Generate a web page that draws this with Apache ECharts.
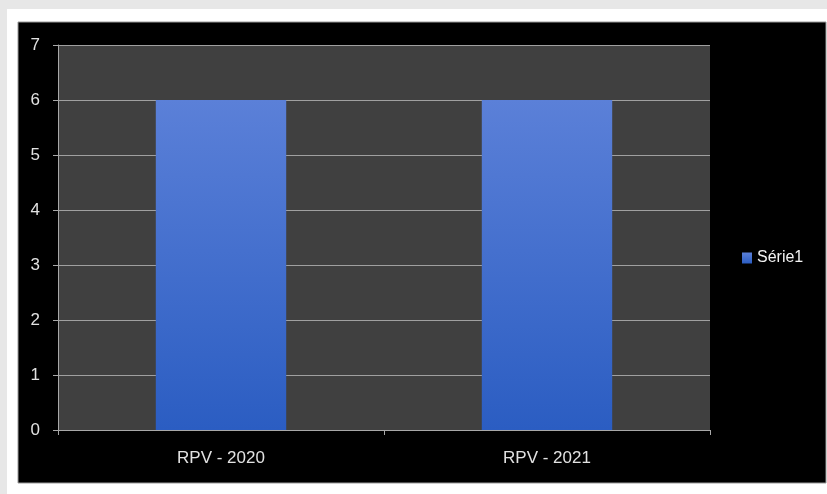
<!DOCTYPE html>
<html>
<head>
<meta charset="utf-8">
<script src="https://cdn.jsdelivr.net/npm/echarts@6/dist/echarts.min.js"></script>
<style>
  html, body { margin: 0; padding: 0; background: #e7e7e7; }
  #chart { width: 827px; height: 494px; }
</style>
</head>
<body>
<div id="chart"></div>
<script>
// Categories and values for the single series
const categories = ['RPV - 2020', 'RPV - 2021'];
const serie1 = [6, 6];
const seriesName = 'Série1';
const yTicks = [0, 1, 2, 3, 4, 5, 6, 7];

const chart = echarts.init(document.getElementById('chart'), null, { renderer: 'canvas' });

const labelFont = '"Liberation Sans", "DejaVu Sans", sans-serif';

chart.setOption({
  backgroundColor: '#e7e7e7',
  animation: false,
  graphic: [
    // white card
    { type: 'rect', z: -10, shape: { x: 7, y: 9, width: 822, height: 488 }, style: { fill: '#ffffff' } },
    // black chart area
    { type: 'rect', z: -9, shape: { x: 18, y: 22, width: 808, height: 461 }, style: { fill: '#000000', stroke: '#9a9a9a', lineWidth: 1 } }
  ],
  grid: {
    left: 58, top: 45, right: 117, bottom: 64,
    show: true, backgroundColor: '#404040', borderWidth: 0
  },
  legend: {
    data: [seriesName],
    orient: 'vertical',
    left: 737, top: 245,
    itemWidth: 10, itemHeight: 11, itemGap: 4,
    icon: 'rect',
    textStyle: { color: '#f2f2f2', fontSize: 16, fontFamily: labelFont }
  },
  xAxis: {
    type: 'category',
    data: categories,
    axisLine: { show: true, lineStyle: { color: '#a8a8a8', width: 1 } },
    axisTick: { show: true, alignWithLabel: false, length: 5, lineStyle: { color: '#a8a8a8' } },
    axisLabel: { color: '#e2e2e2', fontSize: 17, fontFamily: labelFont, margin: 20 }
  },
  yAxis: {
    type: 'value',
    min: yTicks[0], max: yTicks[yTicks.length - 1], interval: 1,
    axisLine: { show: true, lineStyle: { color: '#a8a8a8', width: 1 } },
    axisTick: { show: true, length: 5, lineStyle: { color: '#a8a8a8' } },
    axisLabel: { color: '#e2e2e2', fontSize: 17, fontFamily: labelFont, margin: 18 },
    splitLine: { show: true, lineStyle: { color: '#a0a0a0', width: 1 } }
  },
  series: [{
    name: seriesName,
    type: 'bar',
    data: serie1,
    barWidth: '40%',
    itemStyle: {
      color: new echarts.graphic.LinearGradient(0, 0, 0, 1, [
        { offset: 0, color: '#5b80d8' },
        { offset: 1, color: '#2b5dc2' }
      ])
    }
  }]
});
</script>
</body>
</html>
